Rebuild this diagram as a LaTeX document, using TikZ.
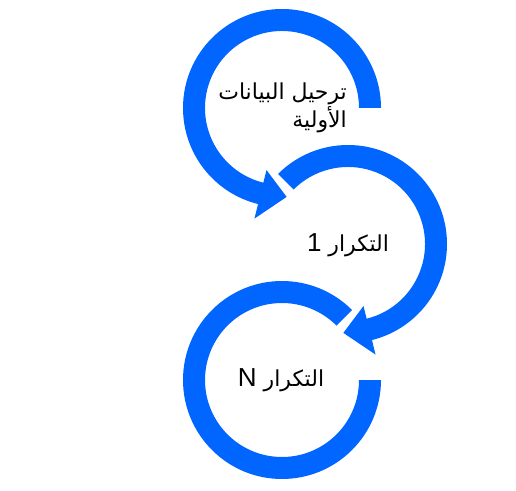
\documentclass[tikz,border=0pt]{standalone}
\usepackage{fontspec}
\usetikzlibrary{calc}
\TeXXeTstate=1
\newfontfamily\arabicfont[Script=Arabic]{DejaVu Sans}
\newfontfamily\latinsans{Liberation Sans}
\definecolor{arrowblue}{RGB}{0,102,255}
\tikzset{
  ring/.style={fill=arrowblue, draw=none},
  lbl/.style={inner sep=0pt, font=\arabicfont\fontsize{22}{28}\selectfont, text=black}
}
\newcommand{\latnum}[1]{{\latinsans\fontsize{26}{28}\selectfont #1}}
\begin{document}
\begin{tikzpicture}[x=1pt,y=1pt]
\useasboundingbox (0,0) rectangle (516,490);
\coordinate (c1) at (282,382);
\coordinate (c2) at (348,246);
\coordinate (c3) at (282,110);
% circle 1: counterclockwise, arrow at bottom
\path[ring] ($(c1)+(0:77pt)$) -- ($(c1)+(0:99pt)$)
  arc[start angle=0, end angle=256, radius=99pt]
  -- ($(c1)+(256:114pt)$) -- ($(c1)+(273:89pt)$) -- ($(c1)+(256:64pt)$)
  -- ($(c1)+(256:77pt)$)
  arc[start angle=256, end angle=0, radius=77pt] -- cycle;
% circle 2: clockwise, arrow at bottom
\path[ring] ($(c2)+(135:77pt)$) -- ($(c2)+(135:99pt)$)
  arc[start angle=135, end angle=-76, radius=99pt]
  -- ($(c2)+(-76:114pt)$) -- ($(c2)+(-93:89pt)$) -- ($(c2)+(-76:64pt)$)
  -- ($(c2)+(-76:77pt)$)
  arc[start angle=-76, end angle=135, radius=77pt] -- cycle;
% circle 3: open ring
\path[ring] ($(c3)+(45:77pt)$) -- ($(c3)+(45:99pt)$)
  arc[start angle=45, end angle=360, radius=99pt]
  -- ($(c3)+(0:77pt)$)
  arc[start angle=360, end angle=45, radius=77pt] -- cycle;
% labels
\node[lbl, align=right, anchor=east] (t1) at (347,382)
  {\beginR ترحيل البيانات\endR\\\beginR الأولية\endR};
\node[lbl] (t2) at (348,245) {\beginR التكرار \latnum{1}\endR};
\node[lbl] (t3) at (281,110) {\beginR التكرار \latnum{N}\endR};
\end{tikzpicture}
\end{document}
